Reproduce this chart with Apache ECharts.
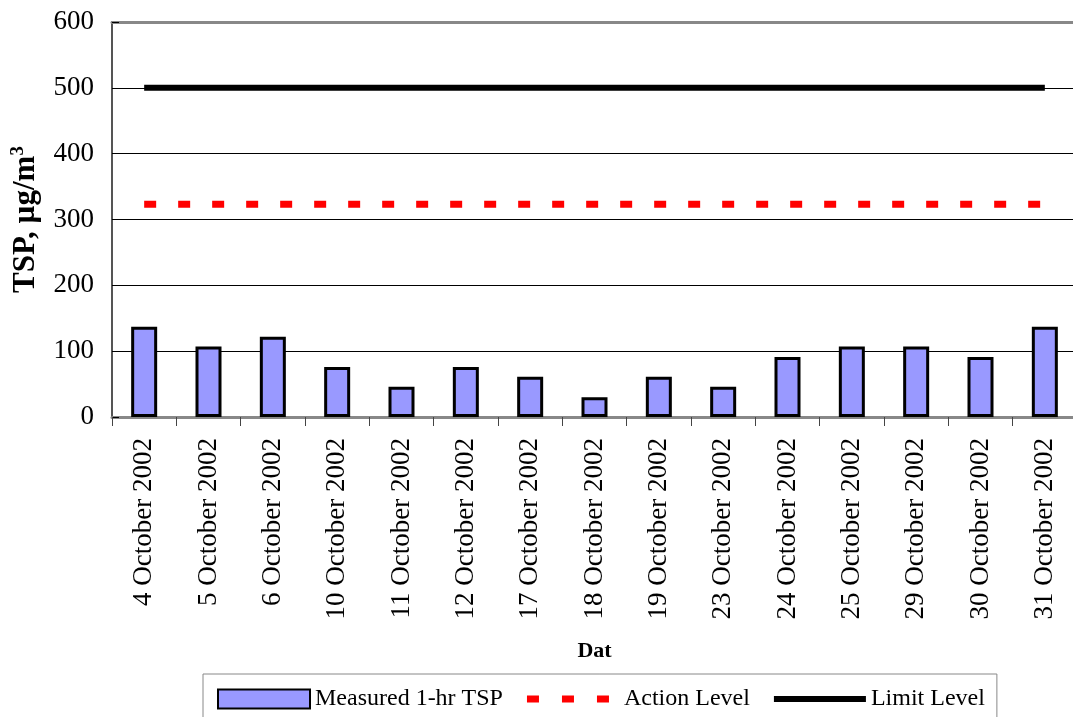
<!DOCTYPE html>
<html>
<head>
<meta charset="utf-8">
<script src="https://cdn.jsdelivr.net/npm/echarts@6/dist/echarts.min.js"></script>
<style>html,body{margin:0;padding:0;background:#fff}#c{width:1073px;height:717px}</style>
</head>
<body>
<div id="c"></div>
<script>
var categories = ['4 October 2002','5 October 2002','6 October 2002','10 October 2002','11 October 2002','12 October 2002','17 October 2002','18 October 2002','19 October 2002','23 October 2002','24 October 2002','25 October 2002','29 October 2002','30 October 2002','31 October 2002'];
var measured = [137,107,122,76,46,76,61,30,61,46,91,107,107,91,137];
var actionLevel = 323;
var limitLevel = 500;
var yTicks = [0,100,200,300,400,500,600];

var actionData = categories.map(function(){return actionLevel;});
var limitData = categories.map(function(){return limitLevel;});
var FONT = '"Liberation Serif","Times New Roman",serif';

var chart = echarts.init(document.getElementById('c'));
chart.setOption({
  animation: false,
  backgroundColor: '#fff',
  textStyle: {fontFamily: FONT, color: '#000'},
  grid: {left: 112, top: 22, bottom: 300, right: -4, containLabel: false, outerBoundsMode: 'none'},
  legend: {
    left: 203, top: 674,
    padding: [13, 12, 13, 14],
    borderColor: '#888', borderWidth: 1,
    itemWidth: 92, itemHeight: 19, itemGap: 24,
    symbolKeepAspect: false,
    textStyle: {fontFamily: FONT, fontSize: 24, color: '#000'},
    data: [
      {name: 'Measured 1-hr TSP', icon: 'rect'},
      {name: 'Action Level', icon: 'path://M0,0 M0,19 M0,6h12v7h-12z M35,6h12v7h-12z M70,6h12v7h-12z M92,0'},
      {name: 'Limit Level', icon: 'path://M0,0 M0,19 M0,6.5h92v6h-92z'}
    ]
  },
  xAxis: [{
    type: 'category',
    data: categories,
    name: 'Dat',
    nameLocation: 'middle',
    nameGap: 223,
    nameTextStyle: {fontFamily: FONT, fontWeight: 'bold', fontSize: 22, color: '#000'},
    axisLine: {lineStyle: {color: '#888', width: 3}},
    axisTick: {show: true, length: 9, lineStyle: {color: '#444', width: 1}},
    axisLabel: {rotate: 90, fontFamily: FONT, fontSize: 27, color: '#000', margin: 21, interval: 0},
    splitLine: {show: false}
  },{
    type: 'category',
    position: 'top',
    data: categories,
    axisLine: {show: true, lineStyle: {color: '#888', width: 3}},
    axisTick: {show: false},
    axisLabel: {show: false}
  }],
  yAxis: {
    type: 'value',
    min: 0, max: 600, interval: 100,
    name: '{a|TSP, µg/m}{sup|3}',
    nameLocation: 'middle',
    nameGap: 70,
    nameRotate: 90,
    nameTextStyle: {
      rich: {
        a: {fontFamily: FONT, fontWeight: 'bold', fontSize: 31, color: '#000'},
        sup: {fontFamily: FONT, fontWeight: 'bold', fontSize: 19, color: '#000', verticalAlign: 'top', padding: [0,0,14,0]}
      }
    },
    axisLine: {show: true, lineStyle: {color: '#555', width: 2}},
    axisTick: {show: true, inside: true, length: 7, lineStyle: {color: '#000'}},
    axisLabel: {fontFamily: FONT, fontSize: 27, color: '#000', margin: 18,
      formatter: function(v){ return yTicks.indexOf(v) >= 0 ? String(v) : ''; }},
    splitLine: {show: true, lineStyle: {color: '#000', width: 1}}
  },
  series: [{
    name: 'Measured 1-hr TSP',
    type: 'bar',
    data: measured,
    barWidth: 26,
    itemStyle: {color: '#9999FF', borderColor: '#000', borderWidth: 3}
  },{
    name: 'Action Level',
    type: 'line',
    data: actionData,
    symbol: 'none',
    lineStyle: {color: '#FF0000', width: 7, type: [12, 22]},
    itemStyle: {color: '#FF0000', borderWidth: 0}
  },{
    name: 'Limit Level',
    type: 'line',
    data: limitData,
    symbol: 'none',
    lineStyle: {color: '#000', width: 6},
    itemStyle: {color: '#000', borderWidth: 0}
  }]
});
</script>
</body>
</html>
